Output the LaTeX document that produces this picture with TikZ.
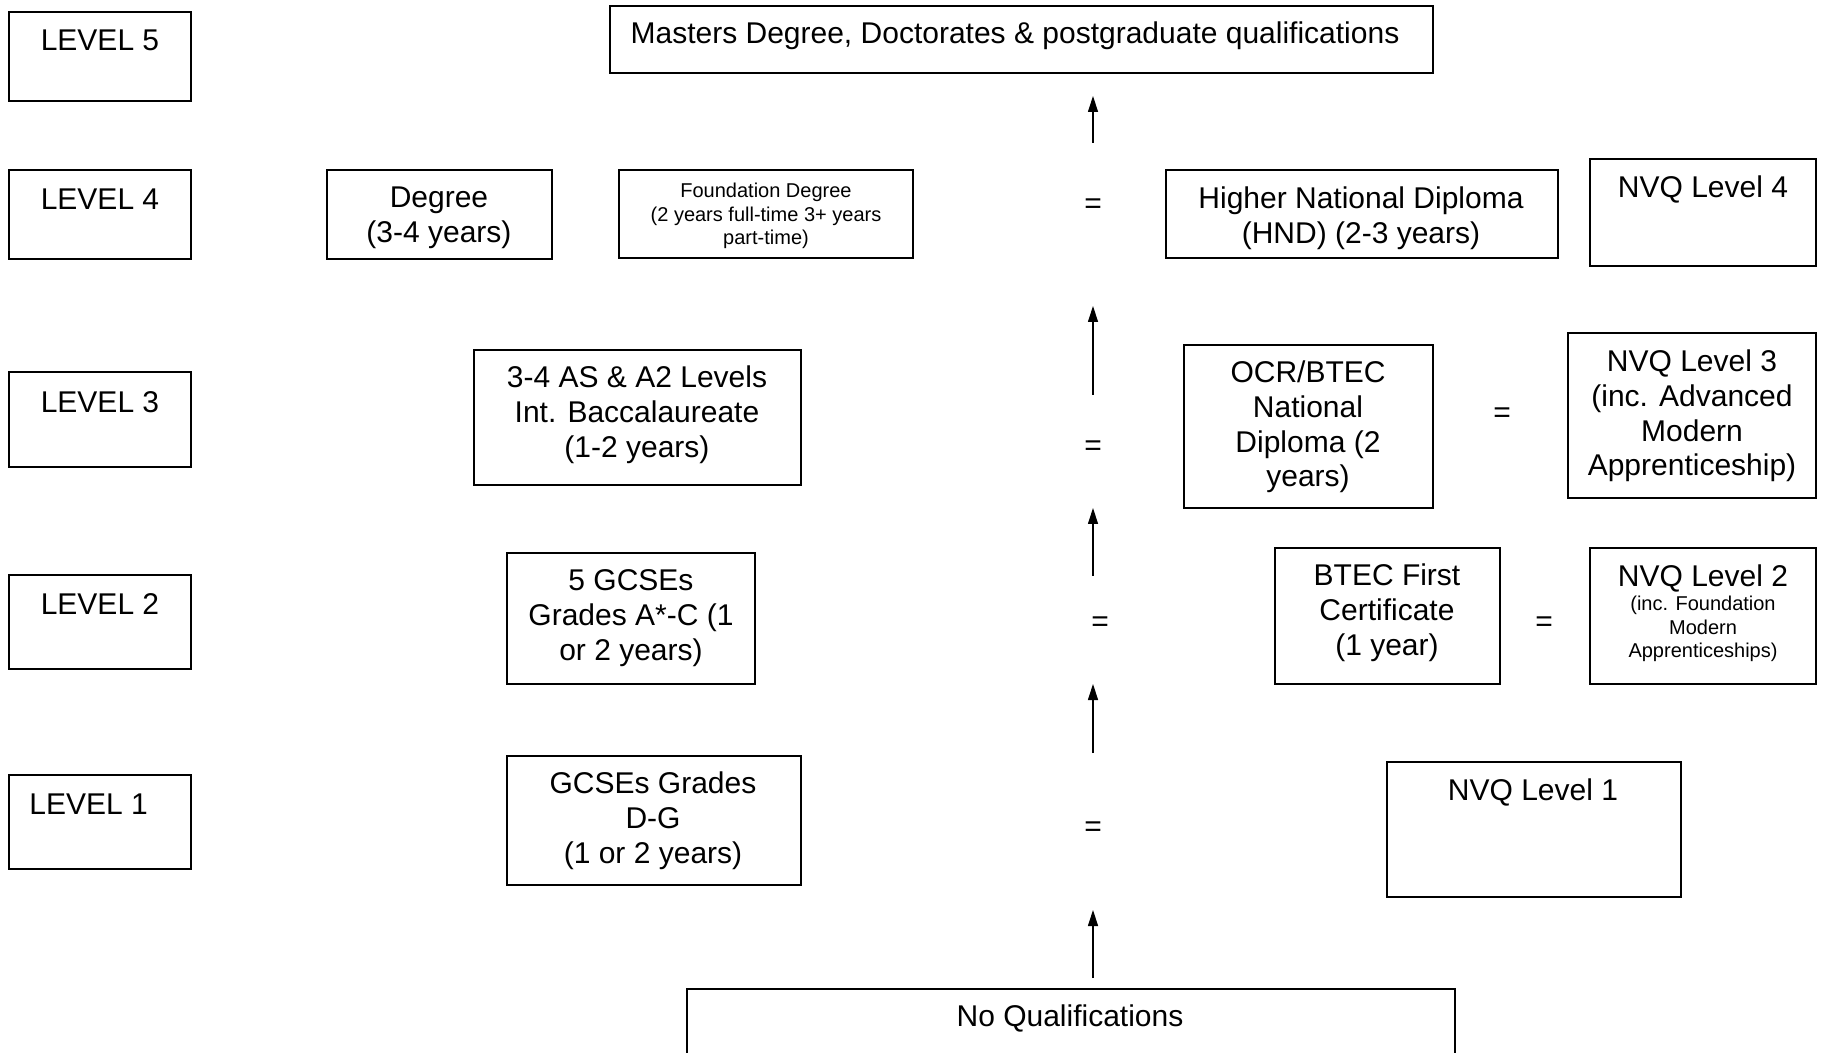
\documentclass[tikz,border=0pt]{standalone}
\usepackage{fontspec}
\setmainfont{Liberation Sans}
\usetikzlibrary{fit,arrows.meta}
\begin{document}
\begin{tikzpicture}[x=0.5pt,y=-0.5pt,
  box/.style={draw,line width=1pt,inner sep=0pt},
  txt/.style={inner sep=0pt,align=center,font=\fontsize{15}{17.4}\selectfont},
  small/.style={inner sep=0pt,align=center,font=\fontsize{10}{11.6}\selectfont},
  eqs/.style={inner sep=0pt,font=\fontsize{15}{17}\selectfont},
  up/.style={-{Triangle[length=8pt,width=5pt]},line width=0.6pt}]
\useasboundingbox (0,0) rectangle (1822,1053);
\clip (0,0) rectangle (1822,1053);
% boxes
\node[box,fit={(9,12) (191,101)}] (l5) {};
\node[box,fit={(610,6) (1433,73)}] (masters) {};
\node[box,fit={(9,170) (191,259)}] (l4) {};
\node[box,fit={(327,170) (552,259)}] (degree) {};
\node[box,fit={(619,170) (913,258)}] (found) {};
\node[box,fit={(1166,170) (1558,258)}] (hnd) {};
\node[box,fit={(1590,159) (1816,266)}] (nvq4) {};
\node[box,fit={(9,372) (191,467)}] (l3) {};
\node[box,fit={(474,350) (801,485)}] (as) {};
\node[box,fit={(1184,345) (1433,508)}] (ocr) {};
\node[box,fit={(1568,333) (1816,498)}] (nvq3) {};
\node[box,fit={(9,575) (191,669)}] (l2) {};
\node[box,fit={(507,553) (755,684)}] (gcse5) {};
\node[box,fit={(1275,548) (1500,684)}] (btec) {};
\node[box,fit={(1590,548) (1816,684)}] (nvq2) {};
\node[box,fit={(9,775) (191,869)}] (l1) {};
\node[box,fit={(507,756) (801,885)}] (gcsedg) {};
\node[box,fit={(1387,762) (1681,897)}] (nvq1) {};
\node[box,fit={(687,989) (1455,1070)}] (noq) {};
% texts
\node[txt] (tl5) at (100,40) {LEVEL 5};
\node[txt] (tmasters) at (1015,36) {Masters Degree, Doctorates \& postgraduate qualifications};
\node[txt] (tl4) at (100,199) {LEVEL 4};
\node[txt] (tdegree) at (439,218) {Degree\\(3-4 years)};
\node[small] (tfound) at (766,216) {Foundation Degree\\(2 years full-time 3+ years\\part-time)};
\node[eqs] (eq1) at (1093,206) {=};
\node[txt] (thnd) at (1361,218) {Higher National Diploma\\(HND) (2-3 years)};
\node[txt] (tnvq4) at (1703,189) {NVQ Level 4};
\node[txt] (tl3) at (100,402) {LEVEL 3};
\node[txt] (tas) at (637,415) {3-4 AS \& A2 Levels\\Int. Baccalaureate\\(1-2 years)};
\node[eqs] (eq2) at (1093,448) {=};
\node[txt] (tocr) at (1308,427) {OCR/BTEC\\National\\Diploma (2\\years)};
\node[eqs] (eq3) at (1502,415) {=};
\node[txt] (tnvq3) at (1692,416) {NVQ Level 3\\(inc. Advanced\\Modern\\Apprenticeship)};
\node[txt] (tl2) at (100,604) {LEVEL 2};
\node[txt] (tgcse5) at (631,618) {5 GCSEs\\Grades A*-C (1\\or 2 years)};
\node[eqs] (eq4) at (1100,624) {=};
\node[txt] (tbtec) at (1387,613) {BTEC First\\Certificate\\(1 year)};
\node[eqs] (eq5) at (1544,624) {=};
\node[txt] (tnvq2) at (1703,578) {NVQ Level 2};
\node[small] (tnvq2s) at (1703,629) {(inc. Foundation\\Modern\\Apprenticeships)};
\node[txt,anchor=west] (tl1) at (29,804) {LEVEL 1};
\node[txt] (tgcsedg) at (653,821) {GCSEs Grades\\D-G\\(1 or 2 years)};
\node[eqs] (eq6) at (1093,829) {=};
\node[txt] (tnvq1) at (1533,792) {NVQ Level 1};
\node[txt] (tnoq) at (1070,1018) {No Qualifications};
% arrows
\coordinate (a1s) at (1093,143); \coordinate (a1e) at (1093,96);
\coordinate (a2s) at (1093,395); \coordinate (a2e) at (1093,306);
\coordinate (a3s) at (1093,576); \coordinate (a3e) at (1093,508);
\coordinate (a4s) at (1093,753); \coordinate (a4e) at (1093,684);
\coordinate (a5s) at (1093,978); \coordinate (a5e) at (1093,910);
\draw[up] (a1s) -- (a1e);
\draw[up] (a2s) -- (a2e);
\draw[up] (a3s) -- (a3e);
\draw[up] (a4s) -- (a4e);
\draw[up] (a5s) -- (a5e);
\end{tikzpicture}
\end{document}
